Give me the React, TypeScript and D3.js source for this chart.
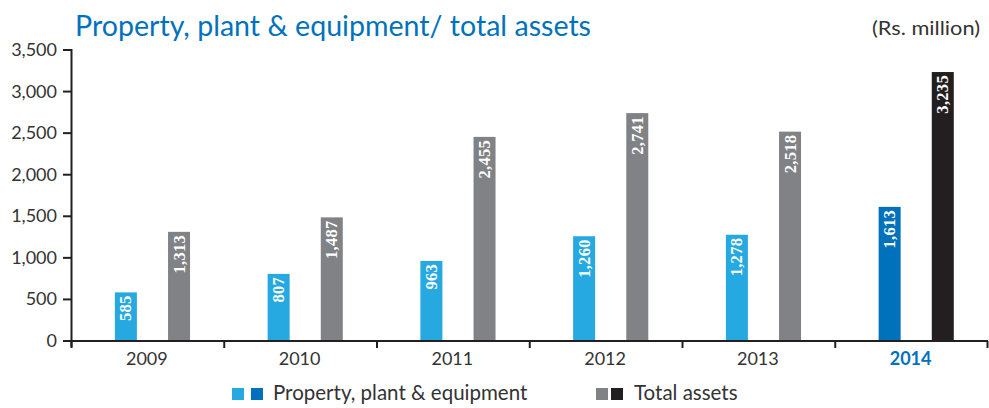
import React from "react";
import * as d3 from "d3";

const years = ["2009", "2010", "2011", "2012", "2013", "2014"];
const ppe = [585, 807, 963, 1260, 1278, 1613];
const totalAssets = [1313, 1487, 2455, 2741, 2518, 3235];
const yTicks = [0, 500, 1000, 1500, 2000, 2500, 3000, 3500];
const highlightYear = "2014";

const W = 989;
const H = 408;
const FONT = "Lato, 'Open Sans', sans-serif";
const LIGHT_BLUE = "#25a9e0";
const DARK_BLUE = "#0071bb";
const GREY = "#808285";
const BLACK = "#231f20";
const AXIS = "#231f20";
const TEXT = "#333333";

export default function App() {
  const x = d3.scaleBand<string>().domain(years).range([71.5, 988]).padding(0);
  const y = d3.scaleLinear().domain([0, 3500]).range([341, 50]);
  const bw = x.bandwidth();
  const barW = bw * 0.144;
  const fmt = d3.format(",");

  const bars: React.ReactNode[] = [];
  years.forEach((yr, i) => {
    const b = x(yr)!;
    const hi = yr === highlightYear;
    const series = [
      { v: ppe[i], x0: b + bw * 0.284, c: hi ? DARK_BLUE : LIGHT_BLUE },
      { v: totalAssets[i], x0: b + bw * 0.632, c: hi ? BLACK : GREY },
    ];
    series.forEach((s, j) => {
      const top = y(s.v);
      const cx = s.x0 + barW / 2;
      bars.push(
        <g key={`${yr}-${j}`}>
          <rect x={s.x0} y={top} width={barW} height={y(0) - top} fill={s.c} />
          <text
            transform={`translate(${cx + 5.5},${top + 3}) rotate(-90)`}
            textAnchor="end"
            fill="#ffffff"
            fontFamily="'Liberation Serif', serif"
            fontSize={16.5}
            fontWeight="bold"
            letterSpacing={0.3}
          >
            {fmt(s.v)}
          </text>
        </g>
      );
    });
  });

  return (
    <svg width={W} height={H} style={{ position: "absolute", left: 0, top: 0, background: "#fff" }}>
      <text x={75} y={36} fill="#0072bc" fontFamily={FONT} fontSize={29} textLength={516} lengthAdjust="spacingAndGlyphs">
        Property, plant &amp; equipment/ total assets
      </text>
      <text x={980} y={35} textAnchor="end" fill={TEXT} fontFamily={FONT} fontSize={19} textLength={108} lengthAdjust="spacingAndGlyphs">
        (Rs. million)
      </text>

      {bars}

      {/* y axis */}
      <line x1={71.5} x2={71.5} y1={49} y2={347} stroke={AXIS} strokeWidth={2} />
      {yTicks.map((t) => (
        <g key={t}>
          <line x1={63} x2={71.5} y1={y(t)} y2={y(t)} stroke={AXIS} strokeWidth={2} />
          <text x={57} y={y(t) + 6} textAnchor="end" fill={TEXT} fontFamily={FONT} fontSize={18}>
            {fmt(t)}
          </text>
        </g>
      ))}

      {/* x axis */}
      <line x1={63} x2={988} y1={y(0)} y2={y(0)} stroke={AXIS} strokeWidth={2} />
      {years.map((yr) => (
        <line key={`t${yr}`} x1={x(yr)!} x2={x(yr)!} y1={y(0)} y2={348} stroke={AXIS} strokeWidth={2} />
      ))}
      <line x1={987.5} x2={987.5} y1={y(0)} y2={348} stroke={AXIS} strokeWidth={2} />
      {years.map((yr) => (
        <text
          key={`l${yr}`}
          x={x(yr)! + bw / 2 - 1}
          y={365}
          textAnchor="middle"
          fill={yr === highlightYear ? "#0072bc" : TEXT}
          fontWeight={yr === highlightYear ? "bold" : "normal"}
          fontFamily={FONT}
          fontSize={18}
        >
          {yr}
        </text>
      ))}

      {/* legend */}
      <rect x={232} y={388} width={12} height={12} fill={LIGHT_BLUE} />
      <rect x={251} y={388} width={12} height={12} fill={DARK_BLUE} />
      <text x={273} y={400} fill={TEXT} fontFamily={FONT} fontSize={20.5}>
        Property, plant &amp; equipment
      </text>
      <rect x={596} y={388} width={12} height={12} fill={GREY} />
      <rect x={611} y={388} width={12} height={12} fill={BLACK} />
      <text x={634} y={400} fill={TEXT} fontFamily={FONT} fontSize={20.5}>
        Total assets
      </text>
    </svg>
  );
}
